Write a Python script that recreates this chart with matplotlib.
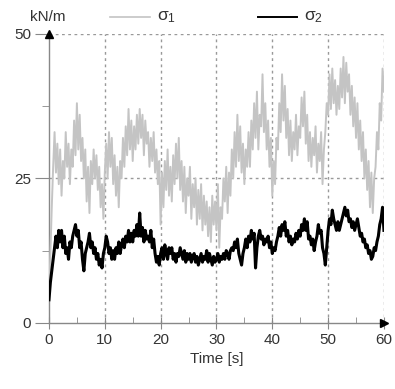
import numpy as np
import matplotlib.pyplot as plt
from matplotlib.lines import Line2D

plt.rcParams['font.family'] = ['Liberation Sans', 'DejaVu Sans']

# time axis, 0.25 s step
t = np.arange(0, 60.01, 0.25)

# sigma_1 (light grey) in 5 s chunks
sigma1 = [5, 12, 20, 27, 33, 26, 31, 24, 30, 22, 28, 25, 33, 27, 31, 24, 30, 27, 35, 29,
          38, 30, 36, 28, 32, 25, 30, 21, 27, 19, 28, 24, 30, 25, 29, 23, 27, 20, 24, 18,
          26, 31, 25, 33, 27, 32, 24, 29, 22, 27, 20, 28, 25, 32, 27, 34, 29, 37, 30, 35,
          28, 34, 30, 36, 31, 37, 32, 36, 29, 35, 31, 33, 27, 32, 28, 33, 26, 30, 24, 28,
          17, 26, 20, 28, 23, 30, 22, 27, 21, 29, 24, 31, 25, 32, 23, 28, 21, 27, 19, 25,
          22, 27, 18, 24, 20, 25, 17, 23, 18, 24, 16, 22, 17, 21, 15, 20, 14, 22, 17, 21,
          16, 24, 13, 20, 18, 25, 21, 27, 19, 26, 22, 30, 25, 33, 27, 36, 28, 34, 26, 31,
          24, 30, 27, 33, 27, 35, 30, 38, 32, 40, 30, 36, 34, 43, 33, 38, 30, 35, 27, 32,
          22, 28, 24, 32, 30, 38, 33, 43, 35, 41, 32, 37, 29, 35, 28, 33, 30, 36, 29, 34,
          32, 39, 34, 40, 31, 36, 28, 33, 27, 32, 29, 34, 26, 31, 28, 33, 24, 30, 33, 38,
          36, 43, 37, 44, 38, 42, 36, 41, 37, 44, 39, 46, 38, 45, 40, 43, 36, 41, 34, 39,
          32, 38, 30, 35, 28, 33, 25, 30, 23, 28, 20, 26, 19, 25, 27, 33, 30, 38, 35, 44, 40]

# sigma_2 (black)
sigma2 = [4, 7, 9, 11, 13, 15, 13, 16, 14, 16, 13, 15, 12, 13, 11, 14, 13, 15, 16, 17,
          15, 16, 13, 14, 11, 9, 12, 13, 14, 15.5, 13, 14, 12, 13, 11, 12, 10, 11, 9.5, 12,
          13, 15, 14, 12, 13, 11, 12.5, 11, 13, 12, 14, 12, 13.5, 14.5, 13, 15, 14, 16, 14, 15.5,
          14, 16, 15, 17, 15, 19, 15, 16.5, 14, 16, 14.5, 15, 14, 16, 13, 14.5, 12, 10.5, 11.5, 10,
          12, 13, 11, 13.5, 12, 11, 13, 12, 13, 11, 12, 10.5, 12, 11.5, 13, 12, 11, 12.5, 10.5, 12,
          11, 12, 10.5, 11.5, 12, 10.5, 11.5, 10, 11, 12, 10.5, 11.5, 11, 12.5, 10.5, 12, 11, 10, 11.5, 10.5,
          11, 12, 10.5, 11.5, 11, 12, 11, 12.5, 12, 11, 12.5, 13, 12.5, 14, 13, 14.5, 12, 11, 10, 12,
          13, 14.5, 13, 15, 14, 16, 14.5, 15.5, 9.5, 13, 15, 16, 14.5, 15, 13.5, 14.5, 14, 15, 13, 14,
          12, 13, 12.5, 14, 15, 16.5, 15, 17, 16, 17.5, 15, 16, 14, 15, 13.5, 14.5, 14, 15.5, 14.5, 16,
          15, 17, 16, 18, 16, 17.5, 14.5, 15, 13.5, 14.5, 12.5, 14, 15, 17, 15.5, 16, 13, 12, 10, 13,
          16, 18, 17, 19.5, 18, 17, 16, 17.5, 16, 17, 18, 19, 20, 18.5, 19.5, 17.5, 18, 16.5, 17.5, 16,
          17, 18, 16.5, 15, 15.5, 14, 14.5, 13, 13.5, 12, 12.5, 11, 11.5, 13, 12.5, 14, 15, 17, 18, 20, 16]

x_ticks = [0, 10, 20, 30, 40, 50, 60]
y_ticks = [0, 25, 50]

grey = '#c4c4c4'
axis_col = '#888888'
text_col = '#333333'

fig = plt.figure(figsize=(3.95, 3.89), dpi=100)
ax = fig.add_axes([0.124, 0.170, 0.848, 0.743])

ax.plot(t, sigma1, color=grey, lw=1.4, zorder=3)
ax.plot(t, sigma2, color='black', lw=2.2, zorder=4)

ax.set_xlim(0, 60)
ax.set_ylim(0, 50)
ax.set_xticks(x_ticks)
ax.set_yticks(y_ticks)
ax.set_xticks(np.arange(5, 60, 10), minor=True)
ax.set_yticks([12.5, 37.5], minor=True)

for s in ['top', 'right']:
    ax.spines[s].set_visible(False)
for s in ['left', 'bottom']:
    ax.spines[s].set_color(axis_col)
    ax.spines[s].set_linewidth(1.0)

ax.tick_params(axis='x', which='major', direction='inout', length=8, color=axis_col,
               labelsize=11, labelcolor=text_col, pad=3)
ax.tick_params(axis='x', which='minor', direction='in', length=4, color=axis_col)
ax.tick_params(axis='y', which='major', direction='out', length=10, color=axis_col,
               labelsize=11, labelcolor=text_col, pad=3)
ax.tick_params(axis='y', which='minor', direction='out', length=5, color=axis_col)

# dashed grid
for xv in x_ticks[1:]:
    ax.axvline(xv, color='#999999', lw=1.0, ls=(0, (2, 2.5)), zorder=1)
for yv in y_ticks[1:]:
    ax.axhline(yv, color='#999999', lw=1.0, ls=(0, (2, 2.5)), zorder=1)

# arrow heads
ax.plot(1, 0, '>', color='black', ms=6, transform=ax.transAxes, clip_on=False, zorder=5)
ax.plot(0, 1, '^', color='black', ms=6, transform=ax.transAxes, clip_on=False, zorder=5)

ax.set_xlabel('Time [s]', fontsize=11, color=text_col, labelpad=4)

# unit and legend on top
fig.text(0.075, 0.957, 'kN/m', fontsize=11, color=text_col, va='center')
fig.add_artist(Line2D([0.278, 0.380], [0.957, 0.957], color=grey, lw=1.2))
fig.text(0.398, 0.955, r'$\mathregular{σ_1}$', fontsize=12.5, color=text_col, va='center')
fig.add_artist(Line2D([0.653, 0.752], [0.957, 0.957], color='black', lw=1.4))
fig.text(0.770, 0.955, r'$\mathregular{σ_2}$', fontsize=12.5, color=text_col, va='center')

plt.savefig('out.png', dpi=100)
